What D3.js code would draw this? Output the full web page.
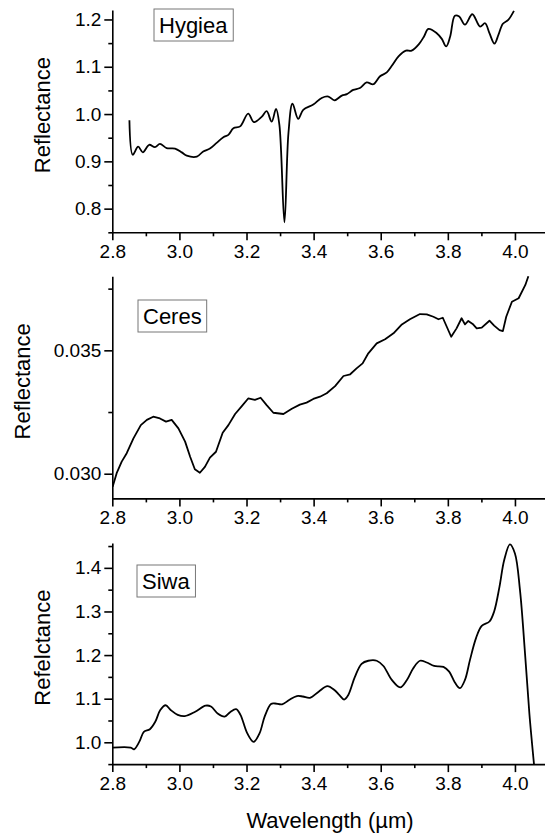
<!DOCTYPE html>
<html>
<head>
<meta charset="utf-8">
<script src="https://cdn.jsdelivr.net/npm/d3@7"></script>
<style>
  body { margin: 0; background: #fff; }
  svg { display: block; font-family: "Liberation Sans", Arial, sans-serif; }
</style>
</head>
<body>
<svg id="chart" width="545" height="837"></svg>
<script>
// 3-µm reflectance spectra of three asteroids

// Hygiea
const hygieaWl = [2.851, 2.861, 2.877, 2.891, 2.910, 2.927, 2.942, 2.962, 2.987, 3.007, 3.022, 3.052,
  3.071, 3.091, 3.111, 3.131, 3.146, 3.161, 3.181, 3.205, 3.222, 3.245, 3.260, 3.275, 3.288, 3.298,
  3.313, 3.325, 3.337, 3.354, 3.369, 3.399, 3.424, 3.444, 3.462, 3.484, 3.499, 3.518, 3.538, 3.558,
  3.578, 3.598, 3.618, 3.633, 3.653, 3.675, 3.692, 3.715, 3.729, 3.742, 3.767, 3.782, 3.795, 3.807,
  3.821, 3.834, 3.851, 3.873, 3.896, 3.911, 3.924, 3.939, 3.951, 3.964, 3.980, 3.997];
const hygieaRef = [0.987, 0.914, 0.931, 0.919, 0.935, 0.930, 0.937, 0.928, 0.927, 0.919, 0.912, 0.910,
  0.921, 0.927, 0.939, 0.951, 0.956, 0.970, 0.974, 1.001, 0.983, 0.994, 1.006, 0.984, 1.011, 0.977,
  0.771, 0.960, 1.022, 0.990, 1.009, 1.020, 1.034, 1.037, 1.029, 1.039, 1.042, 1.051, 1.055, 1.067,
  1.063, 1.080, 1.088, 1.102, 1.122, 1.134, 1.134, 1.149, 1.164, 1.180, 1.171, 1.159, 1.143, 1.164,
  1.208, 1.206, 1.189, 1.211, 1.185, 1.192, 1.171, 1.149, 1.168, 1.191, 1.199, 1.218];

// Ceres
const ceresWl = [2.801, 2.813, 2.828, 2.843, 2.863, 2.885, 2.903, 2.922, 2.942, 2.960, 2.977, 2.997,
  3.017, 3.032, 3.046, 3.061, 3.076, 3.091, 3.109, 3.129, 3.146, 3.166, 3.186, 3.205, 3.225, 3.242,
  3.260, 3.280, 3.310, 3.335, 3.359, 3.379, 3.399, 3.419, 3.439, 3.464, 3.489, 3.509, 3.528, 3.546,
  3.563, 3.588, 3.613, 3.638, 3.663, 3.687, 3.717, 3.737, 3.757, 3.772, 3.785, 3.810, 3.826, 3.841,
  3.851, 3.861, 3.874, 3.886, 3.901, 3.924, 3.938, 3.954, 3.964, 3.974, 3.991, 4.011, 4.031, 4.040];
const ceresRef = [0.02947, 0.03002, 0.03049, 0.03083, 0.03143, 0.03197, 0.03218, 0.03231, 0.03224,
  0.03211, 0.03218, 0.03184, 0.03130, 0.03069, 0.03018, 0.03004, 0.03028, 0.03065, 0.03089, 0.03166,
  0.03197, 0.03242, 0.03274, 0.03305, 0.03299, 0.03308, 0.03278, 0.03247, 0.03242, 0.03263, 0.03280,
  0.03288, 0.03303, 0.03312, 0.03326, 0.03355, 0.03396, 0.03403, 0.03427, 0.03447, 0.03488, 0.03528,
  0.03545, 0.03569, 0.03605, 0.03626, 0.03647, 0.03646, 0.03636, 0.03626, 0.03632, 0.03555, 0.03589,
  0.03630, 0.03605, 0.03619, 0.03607, 0.03589, 0.03592, 0.03620, 0.03600, 0.03582, 0.03578, 0.03636,
  0.03697, 0.03711, 0.03765, 0.03800];

// Siwa
const siwaWl = [2.800, 2.855, 2.865, 2.881, 2.894, 2.912, 2.928, 2.943, 2.959, 2.974, 2.995, 3.016,
  3.047, 3.078, 3.094, 3.114, 3.135, 3.151, 3.169, 3.182, 3.202, 3.221, 3.239, 3.254, 3.273, 3.285,
  3.306, 3.327, 3.350, 3.368, 3.389, 3.415, 3.441, 3.462, 3.477, 3.491, 3.503, 3.523, 3.543, 3.563,
  3.588, 3.608, 3.633, 3.658, 3.678, 3.697, 3.717, 3.737, 3.759, 3.787, 3.804, 3.821, 3.836, 3.851,
  3.866, 3.884, 3.901, 3.924, 3.938, 3.954, 3.968, 3.985, 4.000, 4.015, 4.030, 4.043, 4.058];
const siwaRef = [0.988, 0.988, 0.984, 1.002, 1.024, 1.030, 1.047, 1.074, 1.085, 1.074, 1.063, 1.060,
  1.070, 1.084, 1.082, 1.066, 1.059, 1.069, 1.076, 1.063, 1.021, 1.001, 1.021, 1.059, 1.088, 1.089,
  1.087, 1.097, 1.106, 1.105, 1.102, 1.116, 1.129, 1.120, 1.108, 1.098, 1.108, 1.150, 1.180, 1.187,
  1.187, 1.175, 1.143, 1.126, 1.143, 1.170, 1.187, 1.183, 1.175, 1.173, 1.162, 1.137, 1.124, 1.143,
  1.189, 1.239, 1.267, 1.277, 1.300, 1.357, 1.418, 1.454, 1.433, 1.349, 1.204, 1.066, 0.940];

// tick values
const xMajorTicks = [2.8, 3.0, 3.2, 3.4, 3.6, 3.8, 4.0];
const xMinorTicks = [2.9, 3.1, 3.3, 3.5, 3.7, 3.9];
const hygieaMajorTicks = [0.8, 0.9, 1.0, 1.1, 1.2];
const hygieaMinorTicks = [0.75, 0.85, 0.95, 1.05, 1.15];
const ceresMajorTicks = [0.030, 0.035];
const ceresMinorTicks = [0.0325, 0.0375];
const siwaMajorTicks = [1.0, 1.1, 1.2, 1.3, 1.4];
const siwaMinorTicks = [0.95, 1.05, 1.15, 1.25, 1.35, 1.45];

const panels = [
  { name: "Hygiea", yTitle: "Reflectance", wl: hygieaWl, ref: hygieaRef,
    domain: [0.75, 1.22], range: [232.3, 10], major: hygieaMajorTicks, minor: hygieaMinorTicks,
    fmt: ".1f", box: [154, 9], titleX: 50, curve: d3.curveCatmullRom.alpha(0.5) },
  { name: "Ceres", yTitle: "Reflectance", wl: ceresWl, ref: ceresRef,
    domain: [0.029, 0.038], range: [498.4, 276.3], major: ceresMajorTicks, minor: ceresMinorTicks,
    fmt: ".3f", box: [138, 300], titleX: 30, curve: d3.curveLinear },
  { name: "Siwa", yTitle: "Refelctance", wl: siwaWl, ref: siwaRef,
    domain: [0.95, 1.457], range: [764.1, 543], major: siwaMajorTicks, minor: siwaMinorTicks,
    fmt: ".1f", box: [137, 565], titleX: 50, curve: d3.curveCatmullRom.alpha(0.5) }
];

const svg = d3.select("#chart");
const x = d3.scaleLinear().domain([2.8, 4.1]).range([112.3, 548.5]);
const left = x.range()[0];

const tickFont = 19;
const axisW = 1.6;

function styleAxis(g) {
  g.select(".domain").attr("stroke", "#000").attr("stroke-width", axisW);
  g.selectAll(".tick line").attr("stroke", "#000").attr("stroke-width", axisW);
  g.selectAll(".tick text").attr("fill", "#000")
    .style("font-size", tickFont + "px")
    .style("font-family", '"Liberation Sans", Arial, sans-serif');
}

panels.forEach((p, i) => {
  const y = d3.scaleLinear().domain(p.domain).range(p.range);
  const g = svg.append("g");

  const clipId = "clip" + i;
  svg.append("clipPath").attr("id", clipId)
    .append("rect")
    .attr("x", left).attr("y", p.range[1] - 2)
    .attr("width", 545 - left).attr("height", p.range[0] - p.range[1] + 2);

  // spectrum
  const line = d3.line()
    .x((d, j) => x(p.wl[j]))
    .y(d => y(d))
    .curve(p.curve);
  g.append("path")
    .datum(p.ref)
    .attr("clip-path", `url(#${clipId})`)
    .attr("fill", "none")
    .attr("stroke", "#000")
    .attr("stroke-width", 1.8)
    .attr("stroke-linejoin", "round")
    .attr("d", line);

  // y axis
  const yMinor = g.append("g").attr("transform", `translate(${left},0)`)
    .call(d3.axisLeft(y).tickValues(p.minor).tickSize(4).tickFormat(""));
  yMinor.select(".domain").remove();
  styleAxis(yMinor);
  const yAx = g.append("g").attr("transform", `translate(${left},0)`)
    .call(d3.axisLeft(y).tickValues(p.major).tickSize(8).tickSizeOuter(0)
      .tickPadding(3).tickFormat(d3.format(p.fmt)));
  styleAxis(yAx);

  // x axis
  const xMinor = g.append("g").attr("transform", `translate(0,${p.range[0]})`)
    .call(d3.axisBottom(x).tickValues(xMinorTicks).tickSize(4).tickFormat(""));
  xMinor.select(".domain").remove();
  styleAxis(xMinor);
  const xAx = g.append("g").attr("transform", `translate(0,${p.range[0]})`)
    .call(d3.axisBottom(x).tickValues(xMajorTicks).tickSize(8).tickSizeOuter(0)
      .tickPadding(4).tickFormat(d3.format(".1f")));
  styleAxis(xAx);

  // y axis title
  const midY = (p.range[0] + p.range[1]) / 2 - 6;
  g.append("text")
    .attr("transform", `translate(${p.titleX},${midY}) rotate(-90)`)
    .attr("text-anchor", "middle")
    .style("font-size", "22px")
    .attr("fill", "#000")
    .text(p.yTitle);

  // name label in a box
  const lg = g.append("g");
  const label = lg.append("text")
    .attr("x", p.box[0] + 5)
    .attr("y", p.box[1] + 24)
    .style("font-size", "22px")
    .attr("fill", "#000")
    .text(p.name);
  const bb = label.node().getBBox();
  lg.insert("rect", ":first-child")
    .attr("x", p.box[0]).attr("y", p.box[1])
    .attr("width", bb.width + 10).attr("height", 32)
    .attr("fill", "#fff")
    .attr("stroke", "#777")
    .attr("stroke-width", 1);
});

// shared x axis title
svg.append("text")
  .attr("x", 330)
  .attr("y", 828)
  .attr("text-anchor", "middle")
  .style("font-size", "22px")
  .attr("fill", "#000")
  .text("Wavelength (µm)");
</script>
</body>
</html>
